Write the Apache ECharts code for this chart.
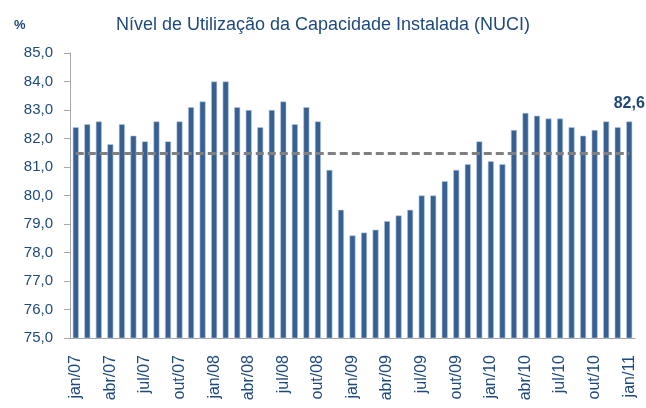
<!DOCTYPE html>
<html>
<head>
<meta charset="utf-8">
<script src="https://cdn.jsdelivr.net/npm/echarts@6/dist/echarts.min.js"></script>
<style>
  html, body { margin: 0; padding: 0; background: #fff; }
  #chart { width: 646px; height: 408px; }
</style>
</head>
<body>
<div id="chart"></div>
<script>
var meses = [
    'jan/07', 'fev/07', 'mar/07', 'abr/07', 'mai/07', 'jun/07', 'jul/07', 'ago/07', 'set/07', 'out/07', 'nov/07', 'dez/07',
    'jan/08', 'fev/08', 'mar/08', 'abr/08', 'mai/08', 'jun/08', 'jul/08', 'ago/08', 'set/08', 'out/08', 'nov/08', 'dez/08',
    'jan/09', 'fev/09', 'mar/09', 'abr/09', 'mai/09', 'jun/09', 'jul/09', 'ago/09', 'set/09', 'out/09', 'nov/09', 'dez/09',
    'jan/10', 'fev/10', 'mar/10', 'abr/10', 'mai/10', 'jun/10', 'jul/10', 'ago/10', 'set/10', 'out/10', 'nov/10', 'dez/10',
    'jan/11'
];
var nuci = [
    82.4, 82.5, 82.6, 81.8, 82.5, 82.1, 81.9, 82.6, 81.9, 82.6, 83.1, 83.3,
    84.0, 84.0, 83.1, 83.0, 82.4, 83.0, 83.3, 82.5, 83.1, 82.6, 80.9, 79.5,
    78.6, 78.7, 78.8, 79.1, 79.3, 79.5, 80.0, 80.0, 80.5, 80.9, 81.1, 81.9,
    81.2, 81.1, 82.3, 82.9, 82.8, 82.7, 82.7, 82.4, 82.1, 82.3, 82.6, 82.4,
    82.6
];
var media = 81.5;

var fonte = "'Liberation Sans', Arial, sans-serif";
var azulTexto = '#1F497D';

function virgula(v) {
    return v.toFixed(1).replace('.', ',');
}

var ultimo = nuci.length - 1;
var dadosBarras = nuci.map(function (v, i) {
    if (i === ultimo) {
        return { value: v, label: { show: true } };
    }
    return v;
});

var myChart = echarts.init(document.getElementById('chart'));
myChart.setOption({
    backgroundColor: '#fff',
    animation: false,
    title: [
        {
            text: 'Nível de Utilização da Capacidade Instalada (NUCI)',
            left: 'center',
            top: 11,
            textStyle: { fontFamily: fonte, fontSize: 18, fontWeight: 'normal', color: azulTexto }
        },
        {
            text: '%',
            left: 9,
            top: 14,
            textStyle: { fontFamily: fonte, fontSize: 13, fontWeight: 'bold', color: azulTexto }
        }
    ],
    grid: {
        left: 70,
        right: 11,
        top: 53,
        bottom: 70
    },
    xAxis: {
        type: 'category',
        data: meses,
        boundaryGap: true,
        axisLine: { lineStyle: { color: '#A6A6A6', width: 1 } },
        axisTick: { interval: 2, length: 6, lineStyle: { color: '#A6A6A6' } },
        axisLabel: {
            interval: 2,
            rotate: 90,
            margin: 17,
            fontFamily: fonte,
            fontSize: 16,
            color: azulTexto
        },
        splitLine: { show: false }
    },
    yAxis: {
        type: 'value',
        min: 75,
        max: 85,
        interval: 1,
        axisLine: { show: true, lineStyle: { color: '#A6A6A6', width: 1 } },
        axisTick: { show: true, length: 6, lineStyle: { color: '#A6A6A6' } },
        axisLabel: {
            margin: 17,
            fontFamily: fonte,
            fontSize: 15,
            color: azulTexto,
            formatter: virgula
        },
        splitLine: { show: false }
    },
    series: [
        {
            name: 'NUCI',
            type: 'bar',
            data: dadosBarras,
            barWidth: 6,
            itemStyle: {
                color: '#376092',
                borderColor: '#B7C9E2',
                borderWidth: 0.6
            },
            label: {
                show: false,
                position: 'top',
                distance: 10,
                fontFamily: fonte,
                fontSize: 16,
                fontWeight: 'bold',
                color: azulTexto,
                formatter: function (p) { return virgula(p.value); }
            },
            markLine: {
                silent: true,
                symbol: 'none',
                label: { show: false },
                lineStyle: { color: '#808080', width: 3, type: [8, 4] },
                data: [
                    [{ coord: [0, media] }, { coord: [ultimo, media] }]
                ]
            }
        }
    ]
});
</script>
</body>
</html>
